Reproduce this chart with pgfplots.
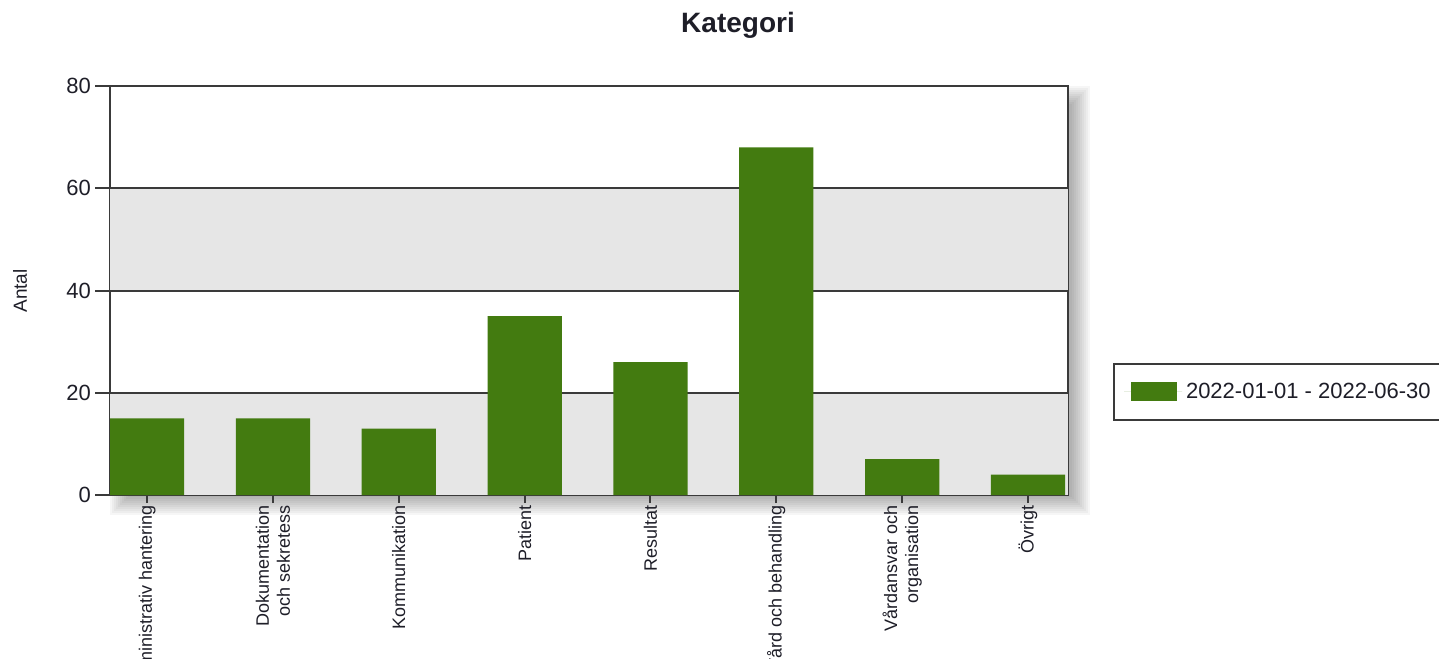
\documentclass[border=0pt]{standalone}
\usepackage{pgfplots}
\pgfplotsset{compat=1.18}
\usepackage{fontspec}
\setmainfont{Liberation Sans}
\definecolor{bargreen}{HTML}{437B10}
\definecolor{band}{HTML}{E6E6E6}
\definecolor{axline}{HTML}{3A3A3A}
\definecolor{txt}{HTML}{1E1E28}
\begin{document}
\begin{tikzpicture}
\useasboundingbox (0,0) rectangle (719.5pt,-329pt);
\clip (0,0) rectangle (719.5pt,-329pt);
% drop shadow of the plot area
\foreach \j in {0,...,9} {
  \fill[black, opacity=0.035] ({55pt+\j*1pt}, {-43pt-\j*1pt}) rectangle ({545pt-\j*1pt},{-257.5pt+\j*1pt});
}
\node[font=\bfseries\fontsize{14}{16}\selectfont, text=txt] at (369pt,-12.5pt) {Kategori};
\node[rotate=90, font=\fontsize{9.5}{11}\selectfont, text=txt] at (10pt,-145.5pt) {Antal};
\begin{axis}[
  at={(55pt,-247.5pt)}, anchor=south west,
  scale only axis, width=479pt, height=204.5pt,
  xmin=-0.295, xmax=7.318, ymin=0, ymax=80,
  clip=false,
  axis background/.style={fill=white},
  axis line style={draw=axline, line width=1pt},
  ytick={0,20,40,60,80},
  xtick={0,...,7},
  xticklabels={Administrativ hantering, {Dokumentation\\och sekretess}, Kommunikation, Patient, Resultat, Vård och behandling, {Vårdansvar och\\organisation}, Övrigt},
  tick align=outside,
  major tick length=4pt,
  x tick style={draw=axline, line width=1pt},
  y tick style={draw=none},
  xtick pos=bottom, ytick pos=left,
  /pgf/number format/assume math mode=true,
  yticklabel style={font=\fontsize{11}{13}\selectfont, text=txt, xshift=-2pt},
  xticklabel style={font=\fontsize{9}{10.5}\selectfont, text=txt, rotate=90, anchor=east, align=right, inner sep=1pt},
  legend style={at={(1.047,0.252)}, anchor=west, draw=axline, line width=1pt, font=\fontsize{11}{13}\selectfont, text=txt, inner xsep=5pt, inner ysep=7.5pt},
  legend image code/.code={\path (0pt,0pt) -- (29pt,0pt); \fill[bargreen] (3.5pt,-4.75pt) rectangle (26.5pt,4.75pt);},
]
\fill[band] (rel axis cs:0,0) rectangle (rel axis cs:1,0.25);
\fill[band] (rel axis cs:0,0.5) rectangle (rel axis cs:1,0.75);
\draw[axline, line width=1pt] (rel axis cs:0,0.25) -- (rel axis cs:1,0.25);
\draw[axline, line width=1pt] (rel axis cs:0,0.5) -- (rel axis cs:1,0.5);
\draw[axline, line width=1pt] (rel axis cs:0,0.75) -- (rel axis cs:1,0.75);
\draw[axline, line width=1pt] (rel axis cs:0,0) -- ++(-7.5pt,0pt);
\draw[axline, line width=1pt] (rel axis cs:0,0.25) -- ++(-7.5pt,0pt);
\draw[axline, line width=1pt] (rel axis cs:0,0.5) -- ++(-7.5pt,0pt);
\draw[axline, line width=1pt] (rel axis cs:0,0.75) -- ++(-7.5pt,0pt);
\draw[axline, line width=1pt] (rel axis cs:0,1) -- ++(-7.5pt,0pt);
\addplot[ybar, bar width=0.59, fill=bargreen, draw=none] coordinates {
  (0,15) (1,15) (2,13) (3,35) (4,26) (5,68) (6,7) (7,4)
};
\addlegendentry{2022-01-01 - 2022-06-30}
\end{axis}
\end{tikzpicture}
\end{document}
